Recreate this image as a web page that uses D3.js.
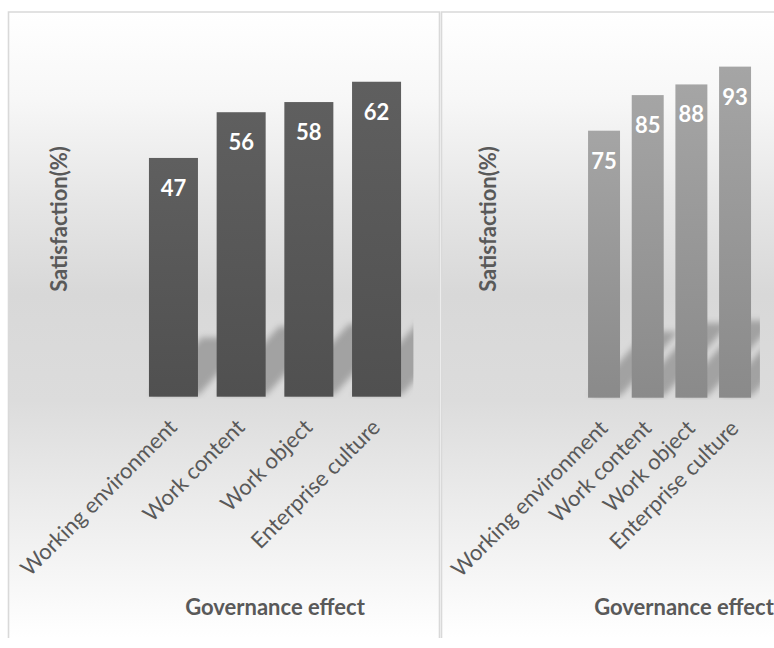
<!DOCTYPE html>
<html>
<head>
<meta charset="utf-8">
<script src="https://cdn.jsdelivr.net/npm/d3@7"></script>
<style>
  html, body { margin: 0; padding: 0; background: #ffffff; }
  svg { display: block; }
  text { font-family: Lato, "Open Sans", sans-serif; }
</style>
</head>
<body>
<svg id="chart" width="774" height="648"></svg>
<script>
// Categories shared by both panels
const categories = ["Working environment", "Work content", "Work object", "Enterprise culture"];
// Satisfaction (%) before and after governance
const leftValues = [47, 56, 58, 62];
const rightValues = [75, 85, 88, 93];
// Value-axis maxima of the two panels
const leftMax = 70;
const rightMax = 100;
const yTitle = "Satisfaction(%)";
const xTitle = "Governance effect";

const svg = d3.select("#chart");
const defs = svg.append("defs");

// Panel background: white at the top and bottom, grey through the middle
const bg = defs.append("linearGradient").attr("id", "panelBg")
  .attr("x1", 0).attr("y1", 0).attr("x2", 0).attr("y2", 1);
[[0, "#ffffff"], [0.14, "#f7f7f7"], [0.3, "#e6e6e6"], [0.45, "#d8d8d8"],
 [0.62, "#dcdcdc"], [0.78, "#ebebeb"], [1, "#ffffff"]]
  .forEach(([o, c]) => bg.append("stop").attr("offset", o).attr("stop-color", c));

function barGradient(id, top, bottom) {
  const g = defs.append("linearGradient").attr("id", id)
    .attr("x1", 0).attr("y1", 0).attr("x2", 0).attr("y2", 1);
  g.append("stop").attr("offset", 0).attr("stop-color", top);
  g.append("stop").attr("offset", 1).attr("stop-color", bottom);
}
barGradient("barDark", "#5f5f5f", "#505050");
barGradient("barLight", "#a5a5a5", "#8a8a8a");

// Soft blur for the perspective shadows
defs.append("filter").attr("id", "shadowBlur")
  .attr("x", "-50%").attr("y", "-50%").attr("width", "200%").attr("height", "200%")
  .append("feGaussianBlur").attr("stdDeviation", 3.2);

// Panel frames
function panelFrame(x, y, w, h) {
  svg.append("rect").attr("x", x).attr("y", y).attr("width", w).attr("height", h)
    .attr("fill", "url(#panelBg)");
  svg.append("path")
    .attr("d", `M${x},${y + h}V${y}H${x + w}V${y + h}`)
    .attr("fill", "none").attr("stroke", "#d9d9d9").attr("stroke-width", 1.6);
}
panelFrame(8.5, 12, 431, 626);
panelFrame(441.5, 12, 340, 626);

function drawPanel(cfg) {
  const x = d3.scaleBand().domain(categories).range(cfg.xRange)
    .paddingInner(cfg.padInner).paddingOuter(cfg.padInner / 2);
  const y = d3.scaleLinear().domain([0, cfg.max]).range(cfg.yRange);
  const base = y(0);
  const g = svg.append("g");

  // clip the shadows to the plot area
  const clipId = cfg.id + "Clip";
  defs.append("clipPath").attr("id", clipId).append("rect")
    .attr("x", cfg.xRange[0]).attr("y", cfg.yRange[1])
    .attr("width", cfg.xRange[1] - cfg.xRange[0] + 3)
    .attr("height", base - cfg.yRange[1] + 2);

  const data = categories.map((c, i) => ({ c, v: cfg.values[i] }));

  // perspective shadows: squashed to about a quarter height and leaning right
  g.append("g").attr("clip-path", `url(#${clipId})`)
    .selectAll("path").data(data).join("path")
    .attr("d", d => {
      const x0 = x(d.c) + 1, w = x.bandwidth();
      const h = (base - y(d.v)) * 0.24;
      const k = h * 0.9;
      const b = base - 2;
      return `M${x0},${b}L${x0 + w},${b}L${x0 + w + k},${b - h}L${x0 + k},${b - h}Z`;
    })
    .attr("fill", "#000").attr("fill-opacity", 0.26)
    .attr("filter", "url(#shadowBlur)");

  // bars
  g.append("g").selectAll("rect").data(data).join("rect")
    .attr("x", d => x(d.c)).attr("width", x.bandwidth())
    .attr("y", d => y(d.v)).attr("height", d => base - y(d.v))
    .attr("fill", cfg.fill);

  // value labels inside the bar tops
  g.append("g").selectAll("text").data(data).join("text")
    .attr("x", d => x(d.c) + x.bandwidth() / 2)
    .attr("y", d => y(d.v) + 38)
    .attr("text-anchor", "middle")
    .attr("font-size", 22).attr("font-weight", 700).attr("fill", "#ffffff")
    .text(d => d.v);

  // category axis with rotated labels
  const ax = g.append("g").attr("transform", `translate(0,${base})`)
    .call(d3.axisBottom(x).tickSize(0));
  ax.select(".domain").remove();
  ax.selectAll("text")
    .attr("x", 0).attr("y", 0).attr("dy", 0)
    .attr("transform", "translate(5,32) rotate(-45)")
    .attr("text-anchor", "end")
    .attr("font-family", "Lato, 'Open Sans', sans-serif")
    .attr("font-size", 22).attr("fill", "#595959");

  // axis titles
  g.append("text")
    .attr("transform", `translate(${cfg.yTitleX},${cfg.yTitleY}) rotate(-90)`)
    .attr("text-anchor", "middle")
    .attr("font-size", 22).attr("font-weight", 700).attr("fill", "#595959")
    .text(yTitle);
  g.append("text")
    .attr("x", cfg.xTitleX).attr("y", 615)
    .attr("text-anchor", "middle")
    .attr("font-size", 22).attr("font-weight", 700).attr("fill", "#595959")
    .text(xTitle);
}

drawPanel({
  id: "left", values: leftValues, max: leftMax,
  xRange: [139.6, 410.4], yRange: [396.7, 41.1], padInner: 0.276,
  fill: "url(#barDark)", yTitleX: 67, yTitleY: 219, xTitleX: 275
});
drawPanel({
  id: "right", values: rightValues, max: rightMax,
  xRange: [582.2, 756.9], yRange: [397.7, 41.7], padInner: 0.268,
  fill: "url(#barLight)", yTitleX: 496, yTitleY: 219, xTitleX: 684
});
</script>
</body>
</html>
